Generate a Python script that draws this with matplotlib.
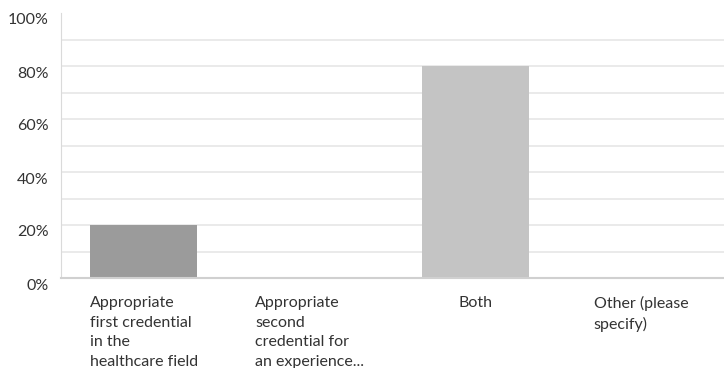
import matplotlib
matplotlib.use('Agg')
import matplotlib.pyplot as plt
import matplotlib.transforms as mtransforms

categories = ['Appropriate\nfirst credential\nin the\nhealthcare field',
              'Appropriate\nsecond\ncredential for\nan experience...',
              'Both',
              'Other (please\nspecify)']
values = [20, 0, 80, 0]
colors = ['#9b9b9b', '#c4c4c4', '#c4c4c4', '#c4c4c4']
yticks = [0, 20, 40, 60, 80, 100]
ytick_labels = ['0%', '20%', '40%', '60%', '80%', '100%']

plt.rcParams['font.family'] = ['Lato', 'DejaVu Sans']

fig = plt.figure(figsize=(7.24, 3.68), dpi=100)
ax = fig.add_axes([61/724, 90/368, 663/724, 265/368])

x = range(len(categories))
ax.bar(x, values, width=0.645, color=colors, zorder=2)

ax.set_xlim(-0.5, len(categories) - 0.5)
ax.set_ylim(0, 100)

# gridlines every 10%
for g in range(10, 100, 10):
    ax.axhline(g, color='#e6e6e6', lw=1.2, zorder=1)

for s in ['top', 'right']:
    ax.spines[s].set_visible(False)
ax.spines['left'].set_color('#dadada')
ax.spines['bottom'].set_color('#d0d0d0')
ax.spines['bottom'].set_linewidth(1.5)

ax.set_yticks(yticks)
ax.set_yticklabels(ytick_labels)
ax.tick_params(axis='y', length=0, pad=9, labelsize=11.5, labelcolor='#333333')
offset = mtransforms.ScaledTranslation(0, -6/100, fig.dpi_scale_trans)
for lbl in ax.get_yticklabels():
    lbl.set_transform(lbl.get_transform() + offset)

ax.set_xticks(list(x))
ax.set_xticklabels(categories, fontsize=11.5, color='#333333', linespacing=1.5)
ax.tick_params(axis='x', length=0, pad=13)
for lbl in ax.get_xticklabels():
    lbl.set_multialignment('left')

fig.savefig('out.png', dpi=100)
